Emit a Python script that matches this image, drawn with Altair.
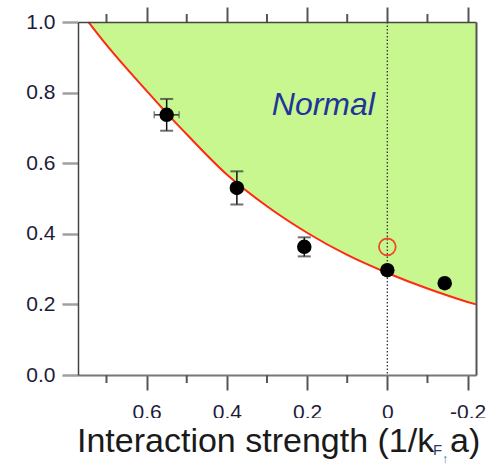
import altair as alt
import pandas as pd

# ---------------- data ----------------
curve_x = [0.745, 0.70, 0.60, 0.55, 0.50, 0.40, 0.30, 0.20, 0.10, 0.0, -0.10, -0.20, -0.221]
curve_y = [1.0, 0.935, 0.805, 0.742, 0.682, 0.568, 0.478, 0.403, 0.340, 0.289, 0.245, 0.207, 0.200]

pt_x = [0.55, 0.375, 0.207, 0.0, -0.143]
pt_y = [0.737, 0.530, 0.363, 0.297, 0.260]
pt_yerr = [0.045, 0.047, 0.027, 0.0, 0.0]
pt_xerr = [0.031, 0.0, 0.0, 0.0, 0.0]

open_x = [0.0]
open_y = [0.363]

x_major = [0.6, 0.4, 0.2, 0.0, -0.2]
x_labels = ["0.6", "0.4", "0.2", "0", "-0.2"]
x_minor = [0.7, 0.5, 0.3, 0.1, -0.1]
y_major = [0.0, 0.2, 0.4, 0.6, 0.8, 1.0]

# ---------------- tables ----------------
curve = pd.DataFrame({"x": curve_x, "y": curve_y})
pts = pd.DataFrame({"x": pt_x, "y": pt_y, "ye": pt_yerr, "xe": pt_xerr})
pts["ylo"] = pts["y"] - pts["ye"]
pts["yhi"] = pts["y"] + pts["ye"]
pts["xlo"] = pts["x"] - pts["xe"]
pts["xhi"] = pts["x"] + pts["xe"]
yerr = pts[pts["ye"] > 0]
xerr = pts[pts["xe"] > 0]
opn = pd.DataFrame({"x": open_x, "y": open_y})
minor = pd.DataFrame({"x": x_minor})
one = pd.DataFrame({"a": [0]})

FONT = "Liberation Sans"
W, H = 398, 353

xs = alt.Scale(domain=[-0.221, 0.771], reverse=True, nice=False, zero=False)
ys = alt.Scale(domain=[0, 1], nice=False, zero=False)

lbl_map = "{" + ",".join(f"'{v:g}':'{t}'" for v, t in zip(x_major, x_labels)) + "}"

x_bottom = alt.Axis(orient="bottom", values=x_major, title=None, grid=False,
                    tickSize=15, tickWidth=2, tickColor="#555",
                    domainColor="#777", domainWidth=2,
                    labelExpr=f"{lbl_map}[''+datum.value] || datum.label",
                    labelFont=FONT, labelFontSize=21, labelColor="#1c1c3a",
                    labelPadding=11, labelFlush=False, zindex=0)
x_top = alt.Axis(orient="top", values=x_major, title=None, grid=False, labels=False,
                 tickSize=15, tickWidth=2, tickColor="#555",
                 domainColor="#444", domainWidth=1.5, zindex=1)
y_left = alt.Axis(orient="left", values=y_major, format=".1f", title=None, grid=False,
                  tickSize=16, tickWidth=2.5, tickColor="#a0a0a0",
                  domainColor="#444", domainWidth=1.5,
                  labelFont=FONT, labelFontSize=21, labelColor="#1c1c3a",
                  labelPadding=7, labelFlush=False, zindex=1)
y_right = alt.Axis(orient="right", title=None, grid=False, labels=False, ticks=False,
                   domainColor="#555", domainWidth=2, zindex=1)

area = alt.Chart(curve).mark_area(color="#c8f790", interpolate="monotone").encode(
    x=alt.X("x:Q", scale=xs, axis=x_bottom),
    y=alt.Y("y:Q", scale=ys, axis=y_left),
    y2=alt.datum(1),
)
line = alt.Chart(curve).mark_line(color="#ff2a10", strokeWidth=2, interpolate="monotone").encode(
    x=alt.X("x:Q", scale=xs, axis=x_top),
    y=alt.Y("y:Q", scale=ys, axis=y_right),
)
zero_line = alt.Chart(one).mark_rule(color="#333", strokeWidth=1.3, strokeDash=[1.5, 2]).encode(
    x=alt.datum(0, scale=xs, axis=None),
    y=alt.value(0), y2=alt.value(H),
)
minor_bot = alt.Chart(minor).mark_rule(color="#555", strokeWidth=2).encode(
    x=alt.X("x:Q", scale=xs, axis=None), y=alt.value(H), y2=alt.value(H + 8),
)
minor_top = alt.Chart(minor).mark_rule(color="#555", strokeWidth=2).encode(
    x=alt.X("x:Q", scale=xs, axis=None), y=alt.value(-8), y2=alt.value(0),
)
ebar = alt.Chart(yerr).mark_rule(color="#111", strokeWidth=1.5).encode(
    x=alt.X("x:Q", scale=xs, axis=None),
    y=alt.Y("ylo:Q", scale=ys, axis=None), y2="yhi:Q",
)
cap_lo = alt.Chart(yerr).mark_tick(color="#333", orient="horizontal", size=13, thickness=2).encode(
    x=alt.X("x:Q", scale=xs, axis=None), y=alt.Y("ylo:Q", scale=ys, axis=None),
)
cap_hi = alt.Chart(yerr).mark_tick(color="#333", orient="horizontal", size=13, thickness=2).encode(
    x=alt.X("x:Q", scale=xs, axis=None), y=alt.Y("yhi:Q", scale=ys, axis=None),
)
hbar = alt.Chart(xerr).mark_rule(color="#333", strokeWidth=1.5).encode(
    x=alt.X("xlo:Q", scale=xs, axis=None), x2="xhi:Q",
    y=alt.Y("y:Q", scale=ys, axis=None),
)
hcap_lo = alt.Chart(xerr).mark_tick(color="#555", orient="vertical", size=7, thickness=1.5).encode(
    x=alt.X("xlo:Q", scale=xs, axis=None), y=alt.Y("y:Q", scale=ys, axis=None),
)
hcap_hi = alt.Chart(xerr).mark_tick(color="#555", orient="vertical", size=7, thickness=1.5).encode(
    x=alt.X("xhi:Q", scale=xs, axis=None), y=alt.Y("y:Q", scale=ys, axis=None),
)
dots = alt.Chart(pts).mark_circle(color="black", size=210, opacity=1).encode(
    x=alt.X("x:Q", scale=xs, axis=None), y=alt.Y("y:Q", scale=ys, axis=None),
)
ring = alt.Chart(opn).mark_point(shape="circle", filled=False, color="#f04a24",
                                 size=280, strokeWidth=1.8, opacity=1).encode(
    x=alt.X("x:Q", scale=xs, axis=None), y=alt.Y("y:Q", scale=ys, axis=None),
)
normal = alt.Chart(one).mark_text(text="Normal", font=FONT, fontSize=32, fontStyle="italic",
                                  color="#22339c", align="left", baseline="alphabetic").encode(
    x=alt.datum(0.288, scale=xs, axis=None), y=alt.datum(0.737, scale=ys, axis=None),
)
# white band that hides the lower part of the x tick labels, as in the reference
mask = alt.Chart(one).mark_rect(color="white").encode(
    x=alt.value(-78), x2=alt.value(W + 14), y=alt.value(396), y2=alt.value(H + 100),
)
t_main = alt.Chart(one).mark_text(text="Interaction strength (1/k", font=FONT, fontSize=34,
                                  color="#1a1a1a", align="left", baseline="alphabetic").encode(
    x=alt.value(-1), y=alt.value(430))
t_sub = alt.Chart(one).mark_text(text="F", font=FONT, fontSize=15,
                                 color="#2a3a70", align="left", baseline="alphabetic").encode(
    x=alt.value(355), y=alt.value(433))
t_arrow = alt.Chart(one).mark_text(text="↑", font=FONT, fontSize=12,
                                   color="#3a70b0", align="left", baseline="alphabetic").encode(
    x=alt.value(364), y=alt.value(441))
t_end = alt.Chart(one).mark_text(text="a)", font=FONT, fontSize=34,
                                 color="#1a1a1a", align="left", baseline="alphabetic").encode(
    x=alt.value(372), y=alt.value(430))

chart = alt.layer(
    area, line, zero_line, minor_bot, minor_top,
    ebar, cap_lo, cap_hi, hbar, hcap_lo, hcap_hi,
    dots, ring, normal, mask, t_main, t_sub, t_arrow, t_end,
).properties(
    width=W, height=H,
    autosize=alt.AutoSizeParams(type="none"),
    padding={"left": 78, "top": 22, "right": 14, "bottom": 93},
    background="white",
).configure_view(stroke=None)

chart.save("out.html", embed_options={"renderer": "svg", "actions": False})
